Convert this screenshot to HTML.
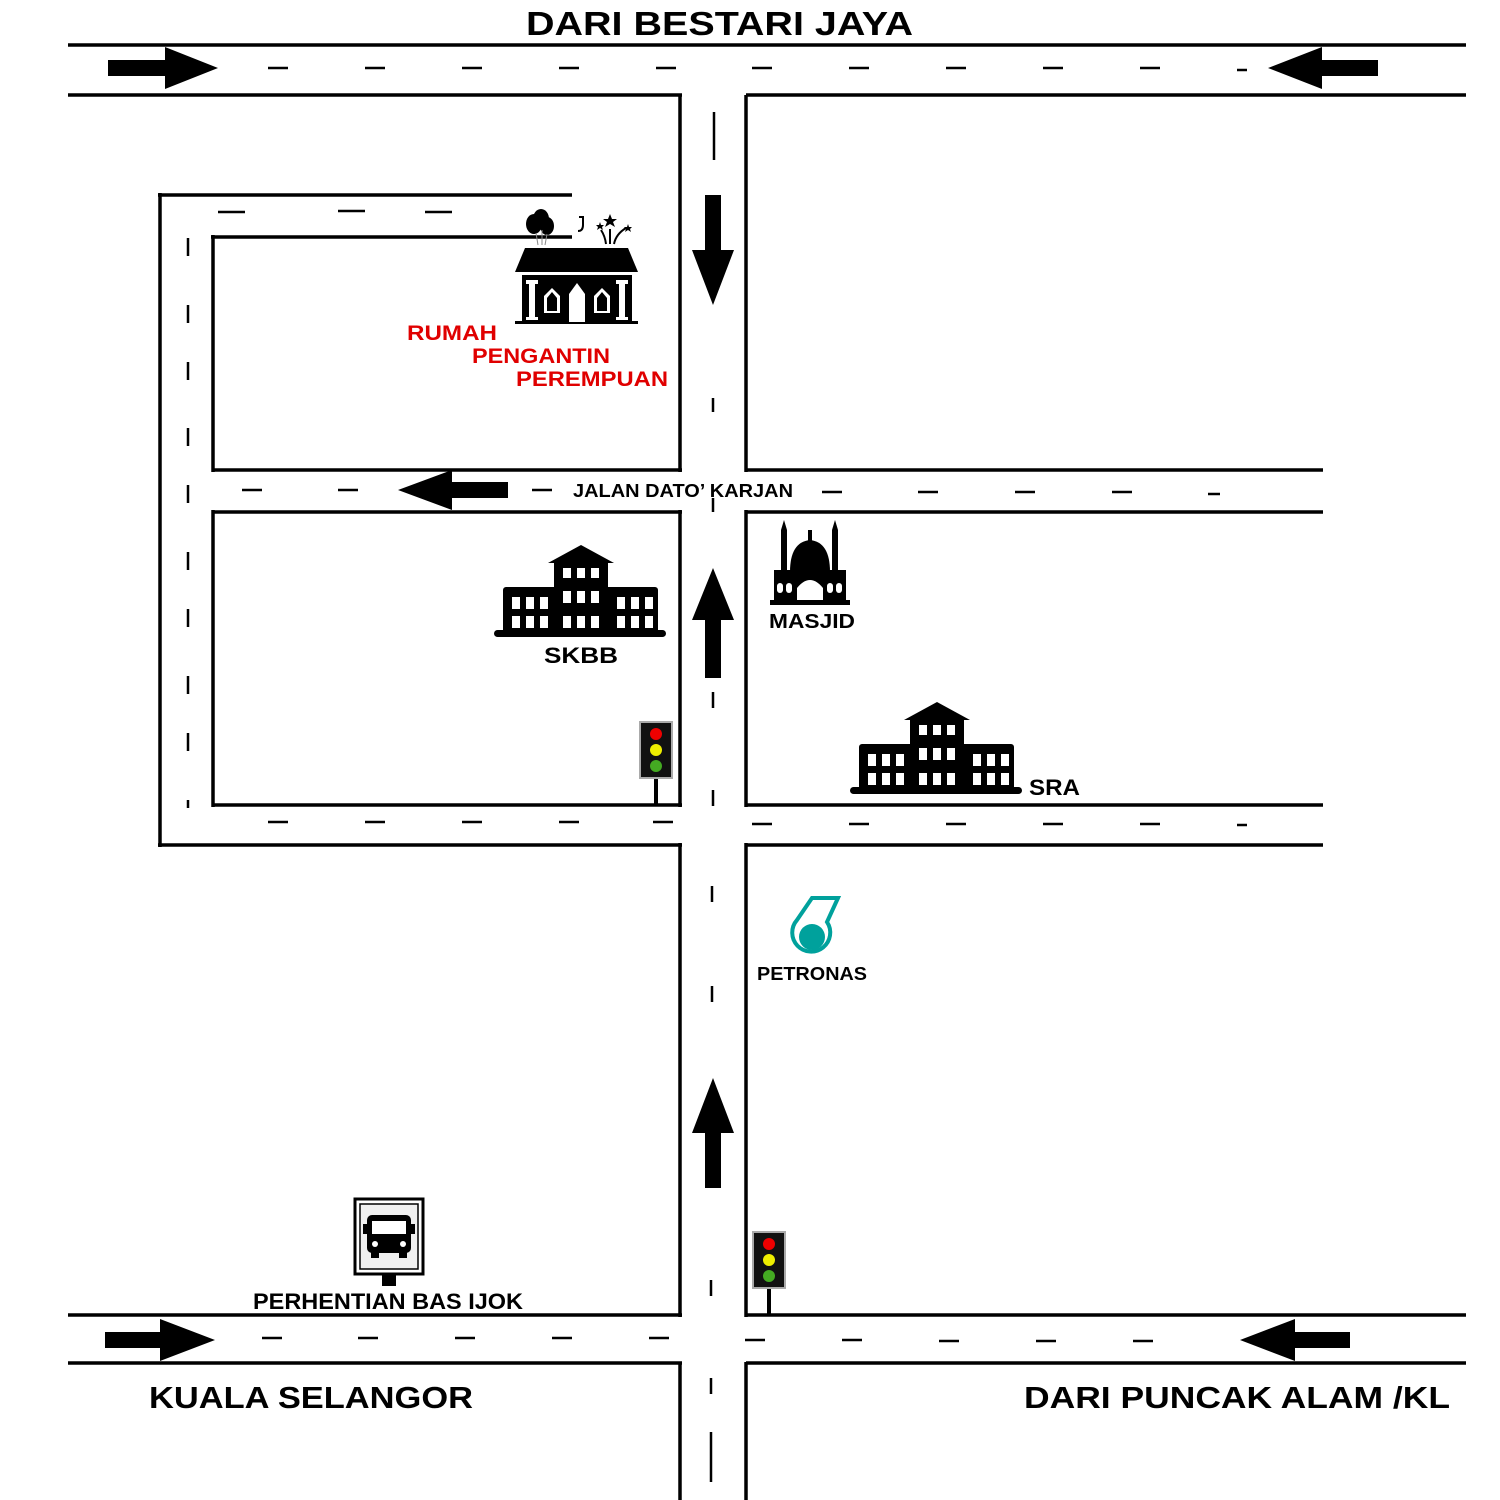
<!DOCTYPE html>
<html><head><style>
html,body{margin:0;padding:0;background:#fff;}
svg{display:block;}
text{font-family:"Liberation Sans",sans-serif;font-weight:bold;}
</style></head><body>
<svg width="1500" height="1500" viewBox="0 0 1500 1500" xmlns="http://www.w3.org/2000/svg">
<rect width="1500" height="1500" fill="#fff"/>
<g stroke="#000" stroke-width="3.5" fill="none">
<line x1="68" y1="45" x2="1466" y2="45"/>
<line x1="68" y1="95" x2="682" y2="95"/>
<line x1="746" y1="95" x2="1466" y2="95"/>
<line x1="680" y1="95" x2="680" y2="472"/>
<line x1="680" y1="510" x2="680" y2="807"/>
<line x1="680" y1="843" x2="680" y2="1317"/>
<line x1="680" y1="1362" x2="680" y2="1500"/>
<line x1="746" y1="95" x2="746" y2="472"/>
<line x1="746" y1="510" x2="746" y2="807"/>
<line x1="746" y1="843" x2="746" y2="1317"/>
<line x1="746" y1="1362" x2="746" y2="1500"/>
<line x1="213" y1="470" x2="682" y2="470"/>
<line x1="746" y1="470" x2="1323" y2="470"/>
<line x1="213" y1="512" x2="682" y2="512"/>
<line x1="746" y1="512" x2="1323" y2="512"/>
<line x1="213" y1="805" x2="682" y2="805"/>
<line x1="746" y1="805" x2="1323" y2="805"/>
<line x1="158" y1="845" x2="682" y2="845"/>
<line x1="746" y1="845" x2="1323" y2="845"/>
<line x1="160" y1="193" x2="160" y2="847"/>
<line x1="158" y1="195" x2="572" y2="195"/>
<line x1="213" y1="235" x2="213" y2="472"/>
<line x1="213" y1="510" x2="213" y2="807"/>
<line x1="211" y1="237" x2="572" y2="237"/>
<line x1="68" y1="1315" x2="682" y2="1315"/>
<line x1="746" y1="1315" x2="1466" y2="1315"/>
<line x1="68" y1="1363" x2="682" y2="1363"/>
<line x1="746" y1="1363" x2="1466" y2="1363"/>
</g>
<g stroke="#000" stroke-width="2.5">
<line x1="268" y1="68" x2="288" y2="68"/><line x1="365" y1="68" x2="385" y2="68"/><line x1="462" y1="68" x2="482" y2="68"/><line x1="559" y1="68" x2="579" y2="68"/><line x1="656" y1="68" x2="676" y2="68"/><line x1="752" y1="68" x2="772" y2="68"/><line x1="849" y1="68" x2="869" y2="68"/><line x1="946" y1="68" x2="966" y2="68"/><line x1="1043" y1="68" x2="1063" y2="68"/><line x1="1140" y1="68" x2="1160" y2="68"/><line x1="1237" y1="70" x2="1247" y2="70"/>
<line x1="242" y1="490" x2="262" y2="490"/><line x1="338" y1="490" x2="358" y2="490"/><line x1="532" y1="490" x2="552" y2="490"/><line x1="822" y1="492" x2="842" y2="492"/><line x1="918" y1="492" x2="938" y2="492"/><line x1="1015" y1="492" x2="1035" y2="492"/><line x1="1112" y1="492" x2="1132" y2="492"/><line x1="1208" y1="494" x2="1220" y2="494"/>
<line x1="268" y1="822" x2="288" y2="822"/><line x1="365" y1="822" x2="385" y2="822"/><line x1="462" y1="822" x2="482" y2="822"/><line x1="559" y1="822" x2="579" y2="822"/><line x1="653" y1="822" x2="673" y2="822"/><line x1="752" y1="824" x2="772" y2="824"/><line x1="849" y1="824" x2="869" y2="824"/><line x1="946" y1="824" x2="966" y2="824"/><line x1="1043" y1="824" x2="1063" y2="824"/><line x1="1140" y1="824" x2="1160" y2="824"/><line x1="1237" y1="825" x2="1247" y2="825"/>
<line x1="262" y1="1338" x2="282" y2="1338"/><line x1="358" y1="1338" x2="378" y2="1338"/><line x1="455" y1="1338" x2="475" y2="1338"/><line x1="552" y1="1338" x2="572" y2="1338"/><line x1="649" y1="1338" x2="669" y2="1338"/><line x1="745" y1="1340" x2="765" y2="1340"/><line x1="842" y1="1340" x2="862" y2="1340"/><line x1="939" y1="1341" x2="959" y2="1341"/><line x1="1036" y1="1341" x2="1056" y2="1341"/><line x1="1133" y1="1341" x2="1153" y2="1341"/>
<line x1="218" y1="212" x2="245" y2="212"/><line x1="338" y1="211" x2="365" y2="211"/><line x1="425" y1="212" x2="452" y2="212"/>
<line x1="188" y1="238" x2="188" y2="256"/><line x1="188" y1="305" x2="188" y2="323"/><line x1="188" y1="362" x2="188" y2="380"/><line x1="188" y1="428" x2="188" y2="446"/><line x1="188" y1="485" x2="188" y2="503"/><line x1="188" y1="552" x2="188" y2="570"/><line x1="188" y1="609" x2="188" y2="627"/><line x1="188" y1="676" x2="188" y2="694"/><line x1="188" y1="733" x2="188" y2="751"/><line x1="188" y1="800" x2="188" y2="808"/>
<line x1="714" y1="112" x2="714" y2="160"/><line x1="713" y1="398" x2="713" y2="412"/><line x1="713" y1="498" x2="713" y2="512"/><line x1="713" y1="692" x2="713" y2="708"/><line x1="713" y1="790" x2="713" y2="806"/><line x1="712" y1="886" x2="712" y2="902"/><line x1="712" y1="986" x2="712" y2="1002"/><line x1="711" y1="1280" x2="711" y2="1296"/><line x1="711" y1="1378" x2="711" y2="1394"/><line x1="711" y1="1432" x2="711" y2="1482"/>
</g>
<g fill="#000">
<polygon points="108,60 165,60 165,47 218,68 165,89 165,76 108,76"/>
<polygon points="1378,60 1322,60 1322,47 1268,68 1322,89 1322,76 1378,76"/>
<polygon points="705,195 721,195 721,250 734,250 713,305 692,250 705,250"/>
<polygon points="705,678 721,678 721,620 734,620 713,568 692,620 705,620"/>
<polygon points="705,1188 721,1188 721,1133 734,1133 713,1078 692,1133 705,1133"/>
<polygon points="508,482 452,482 452,470 398,490 452,510 452,498 508,498"/>
<polygon points="105,1332 160,1332 160,1319 215,1340 160,1361 160,1348 105,1348"/>
<polygon points="1350,1332 1295,1332 1295,1319 1240,1340 1295,1361 1295,1348 1350,1348"/>
</g>
<g fill="#000">
<polygon points="525,248 628,248 638,272 515,272"/>
<rect x="522" y="275" width="110" height="47"/>
<rect x="515" y="321" width="123" height="3"/>
<g fill="#fff">
<rect x="529" y="283" width="6" height="36"/><rect x="526" y="280" width="12" height="4"/><rect x="526" y="317" width="12" height="3"/>
<rect x="619" y="283" width="6" height="36"/><rect x="616" y="280" width="12" height="4"/><rect x="616" y="317" width="12" height="3"/>
<polygon points="569,322 569,294 577,283 585,294 585,322"/>
<polygon points="544,313 544,296 552,288 560,296 560,313"/>
<polygon points="594,313 594,296 602,288 610,296 610,313"/>
</g>
<polygon fill="#000" points="547,311 547,298 552,292 557,298 557,311"/>
<polygon fill="#000" points="597,311 597,298 602,292 607,298 607,311"/>
<ellipse cx="534" cy="224" rx="8" ry="10"/><ellipse cx="541" cy="219" rx="8" ry="10"/><ellipse cx="547" cy="226" rx="7" ry="9"/>
<path d="M536 233 l2 12 M542 230 l0 15 M547 234 l-2 11" stroke="#888" stroke-width="1" fill="none"/>
<path d="M579 217 h4 v8 q0 6 -5 6" stroke="#000" stroke-width="2" fill="none"/>
<path d="M610 214 l2 5 5 0 -4 3 2 5 -5 -3 -5 3 2 -5 -4 -3 5 0z"/>
<path d="M600 222 l1 3 3 0-2 2 1 3-3-2-3 2 1-3-2-2 3 0z"/>
<path d="M628 224 l1 3 3 0-2 2 1 3-3-2-3 2 1-3-2-2 3 0z"/>
<path d="M610 244 v-15 M614 244 q2 -10 12 -16 M606 244 q-1 -8 -5 -14" stroke="#000" stroke-width="2" fill="none"/>
</g>
<g font-size="21" fill="#e00000">
<text x="407" y="340" textLength="90" lengthAdjust="spacingAndGlyphs">RUMAH</text>
<text x="472" y="363" textLength="138" lengthAdjust="spacingAndGlyphs">PENGANTIN</text>
<text x="516" y="386" textLength="152" lengthAdjust="spacingAndGlyphs">PEREMPUAN</text>
</g>
<g id="school" fill="#000">
<polygon points="548,563 581,545 614,563"/>
<rect x="554" y="560" width="54" height="30"/>
<rect x="503" y="587" width="155" height="46" rx="3"/>
<rect x="494" y="630" width="172" height="7" rx="3.5"/>
<g fill="#fff">
<rect x="563" y="568" width="8" height="10"/><rect x="577" y="568" width="8" height="10"/><rect x="591" y="568" width="8" height="10"/>
<rect x="563" y="591" width="8" height="12"/><rect x="577" y="591" width="8" height="12"/><rect x="591" y="591" width="8" height="12"/>
<rect x="563" y="616" width="8" height="12"/><rect x="577" y="616" width="8" height="12"/><rect x="591" y="616" width="8" height="12"/>
<rect x="512" y="597" width="8" height="12"/><rect x="526" y="597" width="8" height="12"/><rect x="540" y="597" width="8" height="12"/>
<rect x="512" y="616" width="8" height="12"/><rect x="526" y="616" width="8" height="12"/><rect x="540" y="616" width="8" height="12"/>
<rect x="617" y="597" width="8" height="12"/><rect x="631" y="597" width="8" height="12"/><rect x="645" y="597" width="8" height="12"/>
<rect x="617" y="616" width="8" height="12"/><rect x="631" y="616" width="8" height="12"/><rect x="645" y="616" width="8" height="12"/>
</g>
</g>
<use href="#school" transform="translate(356,157)"/>
<text x="544" y="663" font-size="22" fill="#000" textLength="74" lengthAdjust="spacingAndGlyphs">SKBB</text>
<text x="1029" y="795" font-size="22" fill="#000" textLength="51" lengthAdjust="spacingAndGlyphs">SRA</text>
<g fill="#000">
<rect x="781" y="530" width="6" height="45"/><rect x="832" y="530" width="6" height="45"/>
<polygon points="781,530 784,520 787,530"/><polygon points="832,530 835,520 838,530"/>
<path d="M790 572 q0 -30 20 -32 q20 2 20 32z"/>
<rect x="808" y="530" width="4" height="12"/>
<rect x="774" y="570" width="72" height="32"/>
<rect x="770" y="600" width="80" height="5"/>
<g fill="#fff">
<path d="M797 600 v-12 q13 -16 26 0 v12z"/>
<rect x="777" y="583" width="6" height="10" rx="3"/><rect x="786" y="583" width="6" height="10" rx="3"/>
<rect x="827" y="583" width="6" height="10" rx="3"/><rect x="836" y="583" width="6" height="10" rx="3"/>
</g>
</g>
<text x="769" y="628" font-size="20" fill="#000" textLength="86" lengthAdjust="spacingAndGlyphs">MASJID</text>
<g fill="none" stroke="#00a19c" stroke-width="4">
<path d="M812 898 L838 898 L827 922 A19 19 0 1 1 797 920 Z"/>
</g>
<circle cx="812" cy="937" r="13" fill="#00a19c"/>
<text x="757" y="980" font-size="18" fill="#000" textLength="110" lengthAdjust="spacingAndGlyphs">PETRONAS</text>
<g id="tl">
<rect x="654" y="775" width="4" height="30" fill="#000"/>
<rect x="639" y="721" width="34" height="58" fill="#aaa"/>
<rect x="641" y="723" width="30" height="54" fill="#111"/>
<circle cx="656" cy="734" r="6" fill="#e00"/>
<circle cx="656" cy="750" r="6" fill="#ee0"/>
<circle cx="656" cy="766" r="6" fill="#4a2"/>
</g>
<use href="#tl" transform="translate(113,510)"/>
<rect x="382" y="1270" width="14" height="16" fill="#000"/>
<rect x="355" y="1199" width="68" height="75" fill="#fff" stroke="#000" stroke-width="3"/>
<rect x="360" y="1204" width="58" height="65" fill="#f0f0f0" stroke="#000" stroke-width="1.5"/>
<g fill="#000">
<rect x="367" y="1215" width="44" height="38" rx="5"/>
<rect x="363" y="1224" width="4" height="10"/><rect x="411" y="1224" width="4" height="10"/>
<rect x="371" y="1252" width="8" height="6"/><rect x="399" y="1252" width="8" height="6"/>
<rect x="372" y="1221" width="34" height="13" fill="#fff"/>
<circle cx="375" cy="1244" r="3" fill="#fff"/><circle cx="403" cy="1244" r="3" fill="#fff"/>
</g>
<text x="253" y="1309" font-size="22" fill="#000" textLength="270" lengthAdjust="spacingAndGlyphs">PERHENTIAN BAS IJOK</text>
<text x="526" y="35" font-size="33" fill="#000" textLength="387" lengthAdjust="spacingAndGlyphs">DARI BESTARI JAYA</text>
<text x="573" y="497" font-size="18" fill="#000" textLength="220" lengthAdjust="spacingAndGlyphs">JALAN DATO’ KARJAN</text>
<text x="149" y="1408" font-size="31" fill="#000" textLength="324" lengthAdjust="spacingAndGlyphs">KUALA SELANGOR</text>
<text x="1024" y="1408" font-size="31" fill="#000" textLength="426" lengthAdjust="spacingAndGlyphs">DARI PUNCAK ALAM /KL</text>
</svg>
</body></html>
